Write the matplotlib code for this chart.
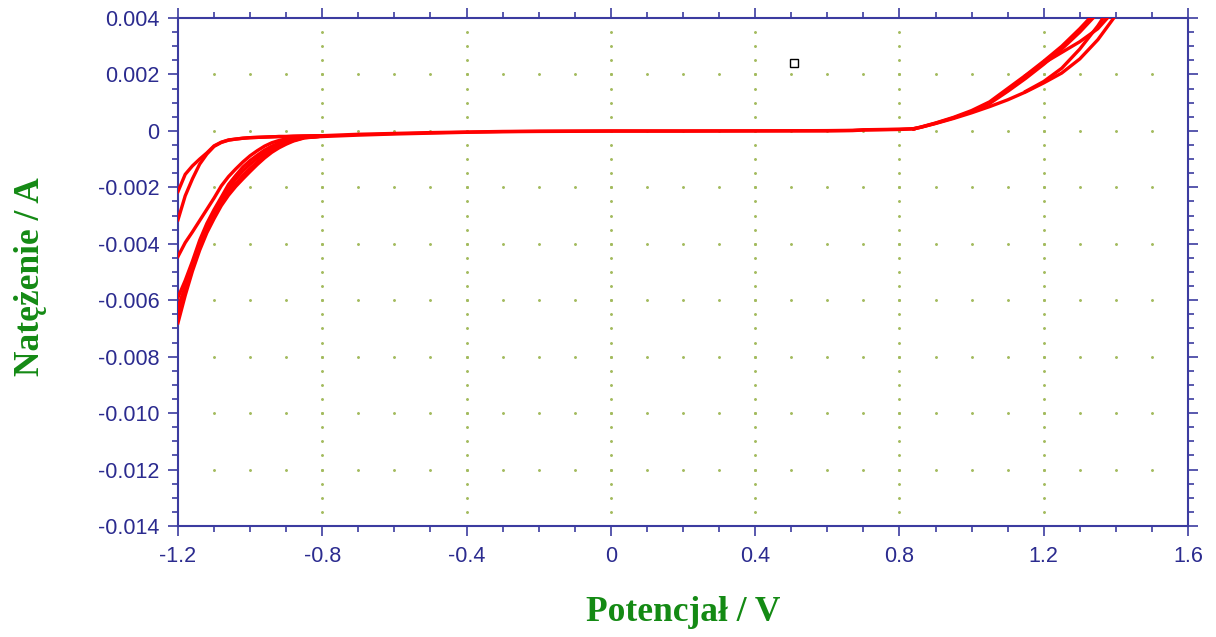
#!/bin/env python
""" Cyclic voltammogram, redrawn from a screenshot """
import numpy as np
from matplotlib import pyplot as plt
from matplotlib.ticker import MultipleLocator, FuncFormatter

# --- data (potential in V, current in A) ---
e_left = [-1.20, -1.18, -1.16, -1.14, -1.12, -1.10, -1.08, -1.06, -1.04, -1.02,
          -1.00, -0.98, -0.96, -0.94, -0.92, -0.90, -0.88, -0.85, -0.80]
i_left_a = [-0.00215, -0.00154, -0.00124, -0.00100, -0.00078, -0.00053, -0.00040,
            -0.00032, -0.00029, -0.00026, -0.00024, -0.00023, -0.00022, -0.00021,
            -0.00020, -0.00020, -0.00019, -0.00018, -0.00017]
i_left_b = [-0.00315, -0.00230, -0.00170, -0.00118, -0.00082, -0.00055, -0.00041,
            -0.00033, -0.00029, -0.00026, -0.00024, -0.00023, -0.00022, -0.00021,
            -0.00020, -0.00020, -0.00019, -0.00018, -0.00017]
i_left_c = [-0.00445, -0.00396, -0.00358, -0.00318, -0.00278, -0.00238, -0.00195,
            -0.00162, -0.00135, -0.00110, -0.00088, -0.00070, -0.00054, -0.00042,
            -0.00034, -0.00028, -0.00024, -0.00021, -0.00018]
i_left_d1 = [-0.00590, -0.00530, -0.00462, -0.00388, -0.00328, -0.00279, -0.00235,
             -0.00190, -0.00158, -0.00128, -0.00105, -0.00086, -0.00068, -0.00054,
             -0.00043, -0.00035, -0.00028, -0.00022, -0.00019]
i_left_d2 = [-0.00625, -0.00552, -0.00476, -0.00400, -0.00340, -0.00290, -0.00246,
             -0.00204, -0.00170, -0.00142, -0.00118, -0.00097, -0.00077, -0.00061,
             -0.00049, -0.00039, -0.00031, -0.00023, -0.00019]
i_left_d3 = [-0.00655, -0.00568, -0.00488, -0.00412, -0.00352, -0.00302, -0.00257,
             -0.00218, -0.00186, -0.00158, -0.00133, -0.00110, -0.00088, -0.00070,
             -0.00055, -0.00043, -0.00034, -0.00024, -0.00019]
i_left_d4 = [-0.00680, -0.00583, -0.00497, -0.00423, -0.00361, -0.00311, -0.00265,
             -0.00228, -0.00197, -0.00170, -0.00144, -0.00119, -0.00096, -0.00076,
             -0.00060, -0.00047, -0.00036, -0.00025, -0.00019]

e_mid = [-0.80, -0.70, -0.60, -0.50, -0.40, -0.30, -0.20, 0.00, 0.20, 0.40,
         0.60, 0.67, 0.70, 0.80, 0.84]
i_mid_a = [-0.00017, -0.00012, -0.00009, -0.00006, -0.00004, -0.00002, -0.00001,
           0.0, 0.0, 0.0, 0.00001, 0.00002, 0.00004, 0.00006, 0.00008]
i_mid_b = [-0.00020, -0.00015, -0.00011, -0.00008, -0.00005, -0.00003, -0.00002,
           -0.00001, -0.00001, 0.0, 0.0, 0.00001, 0.00003, 0.00005, 0.00007]

e_right = [0.84, 0.86, 0.90, 0.95, 1.00, 1.05, 1.10, 1.15, 1.20, 1.25, 1.30, 1.35, 1.40]
i_right_a = [0.00008, 0.00014, 0.00028, 0.00048, 0.00072, 0.00103, 0.00150, 0.00197,
             0.00247, 0.00300, 0.00362, 0.00430, 0.00500]
i_right_b = [0.00008, 0.00013, 0.00027, 0.00046, 0.00068, 0.00097, 0.00140, 0.00186,
             0.00236, 0.00290, 0.00350, 0.00418, 0.00490]
i_right_c = [0.00007, 0.00013, 0.00026, 0.00044, 0.00064, 0.00086, 0.00110, 0.00138,
             0.00170, 0.00205, 0.00255, 0.00323, 0.00410]
# inner loops near the upper vertex
e_loop = [1.15, 1.20, 1.25, 1.30, 1.35, 1.38, 1.40]
i_loop_a = [0.00140, 0.00175, 0.00222, 0.00290, 0.00372, 0.00430, 0.00470]
i_loop_b = [0.00196, 0.00240, 0.00278, 0.00316, 0.00362, 0.00405, 0.00440]

marker_e, marker_i = 0.508, 0.0024

# --- style ---
AXCOL = "#3c3ca0"
TXTCOL = "#2b2b8f"
LABCOL = "#148a14"
DOTCOL = "#a3bb5e"
RED = "#ff0000"


def fmt_x(v, pos):
    v = round(v, 6) + 0.0
    return "0" if v == 0 else "{:.1f}".format(v)


def fmt_y(v, pos):
    v = round(v, 6) + 0.0
    return "0" if v == 0 else "{:.3f}".format(v)


def grid_dots(ax):
    # dotted grid: dots at minor spacing along the major lines
    xmaj = [x for x in ax.xaxis.get_majorticklocs() if -1.19 < x < 1.59]
    ymaj = [y for y in ax.yaxis.get_majorticklocs() if -0.0139 < y < 0.0039]
    xmin = ax.xaxis.get_minorticklocs()
    ymin = ax.yaxis.get_minorticklocs()
    xs, ys = [], []
    for x in xmaj:
        for y in list(ymin) + list(ymaj):
            xs.append(x)
            ys.append(y)
    for y in ymaj:
        for x in list(xmin) + list(xmaj):
            xs.append(x)
            ys.append(y)
    ax.plot(xs, ys, ".", color=DOTCOL, markersize=2.2, zorder=1, clip_on=True)


fig = plt.figure(figsize=(12.16, 6.37), dpi=100)
ax = fig.add_axes([178 / 1216, 1 - 526 / 637, 1010 / 1216, 508 / 637])

ax.set_xlim(-1.2, 1.6)
ax.set_ylim(-0.014, 0.004)
ax.xaxis.set_major_locator(MultipleLocator(0.4))
ax.xaxis.set_minor_locator(MultipleLocator(0.1))
ax.yaxis.set_major_locator(MultipleLocator(0.002))
ax.yaxis.set_minor_locator(MultipleLocator(0.0005))
ax.xaxis.set_major_formatter(FuncFormatter(fmt_x))
ax.yaxis.set_major_formatter(FuncFormatter(fmt_y))

grid_dots(ax)

lw = 2.4
for cur in (i_left_a, i_left_b, i_left_c, i_left_d1, i_left_d2, i_left_d3, i_left_d4):
    ax.plot(e_left, cur, "-", color=RED, lw=lw, zorder=3)
for cur in (i_mid_a, i_mid_b):
    ax.plot(e_mid, cur, "-", color=RED, lw=lw, zorder=3)
for cur in (i_right_a, i_right_b, i_right_c):
    ax.plot(e_right, cur, "-", color=RED, lw=lw, zorder=3)
for cur in (i_loop_a, i_loop_b):
    ax.plot(e_loop, cur, "-", color=RED, lw=lw, zorder=3)

ax.plot([marker_e], [marker_i], "s", mfc="white", mec="black", mew=1.0,
        markersize=5.5, zorder=4)

for sp in ax.spines.values():
    sp.set_color(AXCOL)
    sp.set_linewidth(1.5)

ax.tick_params(which="both", direction="out", color=AXCOL, width=1.2,
               top=True, right=True, labeltop=False, labelright=False)
ax.tick_params(which="major", length=7.5, pad=6, labelsize=15.5, labelcolor=TXTCOL)
ax.tick_params(axis="x", which="major", pad=7)
ax.tick_params(which="minor", length=4)
for lab in ax.get_xticklabels() + ax.get_yticklabels():
    lab.set_fontfamily(["Liberation Sans", "DejaVu Sans"])

lab_font = dict(family=["Liberation Serif", "DejaVu Serif"], weight="bold",
                size=25.5, color=LABCOL)
ax.set_xlabel("Potencjał / V", **lab_font)
ax.set_ylabel("Natężenie / A", **lab_font)
ax.xaxis.set_label_coords(0.5, -0.138)
ax.yaxis.set_label_coords(-0.13, 0.49)

fig.savefig("out.png", dpi=100)
